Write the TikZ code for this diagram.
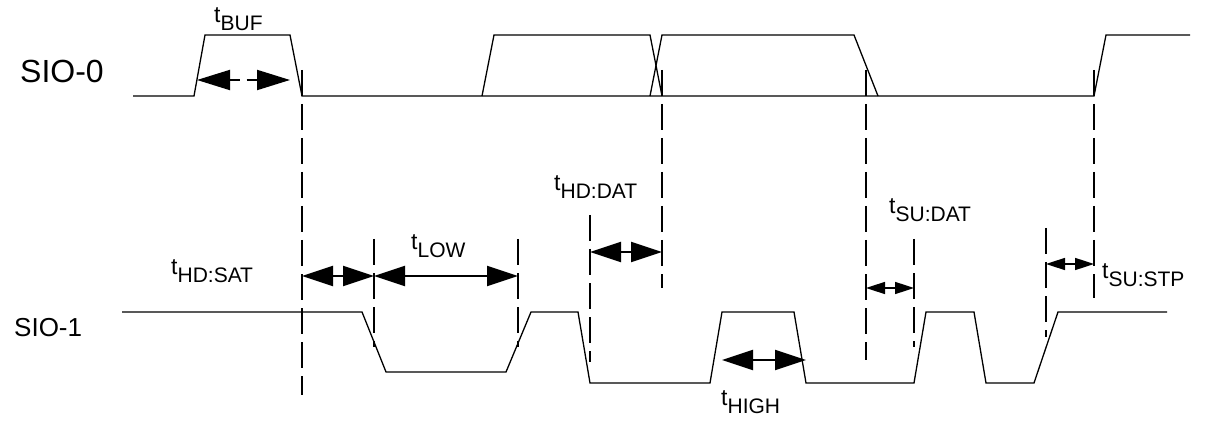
\documentclass[tikz,border=0pt]{standalone}
\usepackage{fontspec}
\setmainfont{Liberation Sans}
\usetikzlibrary{arrows.meta}
\newcommand\tlab[1]{t\raisebox{-8pt}{\fontsize{21}{23}\selectfont #1}}
\tikzset{
  wave/.style={line width=1.3pt, line join=miter},
  guide/.style={line width=2pt, dash pattern=on 26pt off 8pt},
  bigarr/.style={line width=2pt, {Triangle[length=31pt,width=20pt]}-{Triangle[length=31pt,width=20pt]}},
  smallarr/.style={line width=1.6pt, {Triangle[length=19pt,width=12pt]}-{Triangle[length=19pt,width=12pt]}},
  lbl/.style={inner sep=0pt, anchor=base west, font=\fontsize{23}{25}\selectfont},
  sig/.style={inner sep=0pt, anchor=base west},
}
\begin{document}
\begin{tikzpicture}[x=1pt,y=-1pt]
\useasboundingbox (0,0) rectangle (1205,422);

% signal names
\node[sig, font=\fontsize{32}{34}\selectfont] (s0) at (20,83) {SIO-0};
\node[sig, font=\fontsize{26}{28}\selectfont] (s1) at (14,336) {SIO-1};

% SIO-0 waveform
\draw[wave] (133,96) -- (194,96) -- (205,35) -- (290,35) -- (302,96) -- (1094,96) -- (1106,35) -- (1190,35);
\draw[wave] (482,96) -- (494,35) -- (650,35) -- (662,96);
\draw[wave] (650,96) -- (662,35) -- (854,35) -- (878,96);

% SIO-1 waveform
\draw[wave] (122,312) -- (362,312) -- (386,372) -- (506,372) -- (531,312) -- (578,312)
  -- (590,383) -- (710,383) -- (722,312) -- (794,312) -- (806,383) -- (914,383)
  -- (926,312) -- (974,312) -- (986,383) -- (1034,383) -- (1058,312) -- (1167,312);

% guide lines
\coordinate (g1t) at (302,70);  \coordinate (g1b) at (302,395);
\coordinate (g2t) at (374,239); \coordinate (g2b) at (374,347);
\coordinate (g3t) at (518,239); \coordinate (g3b) at (518,347);
\coordinate (g4t) at (590,215); \coordinate (g4b) at (590,362);
\coordinate (g5t) at (662,70);  \coordinate (g5b) at (662,288);
\coordinate (g6t) at (866,70);  \coordinate (g6b) at (866,360);
\coordinate (g7t) at (914,239); \coordinate (g7b) at (914,347);
\coordinate (g8t) at (1046,228); \coordinate (g8b) at (1046,337);
\coordinate (g9t) at (1094,70); \coordinate (g9b) at (1094,298);
\foreach \i in {1,...,9} {\draw[guide] (g\i t) -- (g\i b);}

% arrows
\coordinate (bufL) at (197,80);  \coordinate (bufR) at (290,80);
\draw[line width=2pt, dash pattern=on 10pt off 7pt, {Triangle[length=33pt,width=20pt]}-{Triangle[length=33pt,width=20pt]}] (bufL) -- (bufR);
\coordinate (satL) at (302,276); \coordinate (satR) at (374,276);
\draw[bigarr] (satL) -- (satR);
\coordinate (lowL) at (374,276); \coordinate (lowR) at (518,276);
\draw[bigarr] (lowL) -- (lowR);
\coordinate (hdL) at (590,252);  \coordinate (hdR) at (662,252);
\draw[bigarr] (hdL) -- (hdR);
\coordinate (hiL) at (722,360);  \coordinate (hiR) at (806,360);
\draw[bigarr] (hiL) -- (hiR);
\coordinate (sdL) at (866,288);  \coordinate (sdR) at (914,288);
\draw[smallarr] (sdL) -- (sdR);
\coordinate (spL) at (1046,264); \coordinate (spR) at (1094,264);
\draw[smallarr] (spL) -- (spR);

% timing labels
\node[lbl] (lbuf) at (214,23) {\tlab{BUF}};
\node[lbl] (lsat) at (171,274) {\tlab{HD:SAT}};
\node[lbl] (llow) at (411,250) {\tlab{LOW}};
\node[lbl] (lhd)  at (554,191) {\tlab{HD:DAT}};
\node[lbl] (lhi)  at (721,405) {\tlab{HIGH}};
\node[lbl] (lsd)  at (889,214) {\tlab{SU:DAT}};
\node[lbl] (lsp)  at (1102,279) {\tlab{SU:STP}};
\end{tikzpicture}
\end{document}
